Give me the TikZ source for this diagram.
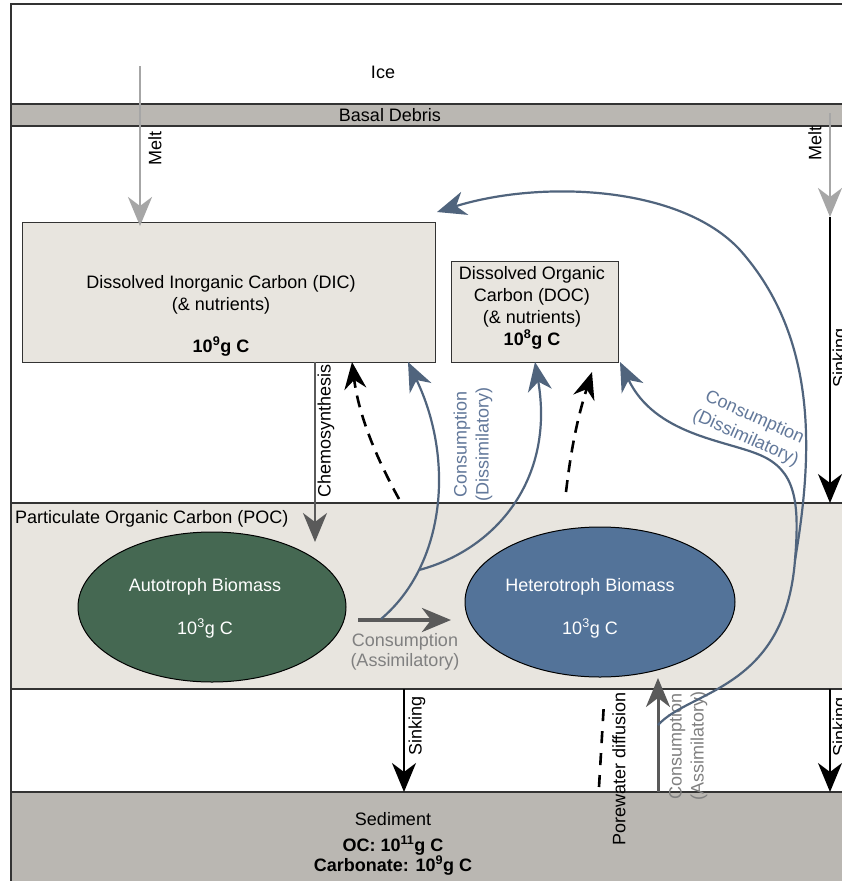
\documentclass[tikz,border=0pt]{standalone}
\usepackage{fontspec}
\setmainfont{Liberation Sans}
\usetikzlibrary{arrows.meta,shapes.geometric}
\definecolor{framecol}{HTML}{333333}
\definecolor{debris}{HTML}{BAB7B2}
\definecolor{pale}{HTML}{E8E5DF}
\definecolor{autofill}{HTML}{456852}
\definecolor{heterofill}{HTML}{537399}
\definecolor{bluecurve}{HTML}{50647D}
\definecolor{bluetext}{HTML}{62789A}
\definecolor{meltgray}{HTML}{A6A6A6}
\definecolor{darkgray}{HTML}{5A5A5A}
\definecolor{labelgray}{HTML}{808080}
\begin{document}
\begin{tikzpicture}[x=1pt,y=-1pt,
  every node/.style={font=\fontsize{18}{22}\selectfont, inner sep=0pt},
  frameline/.style={draw=framecol, line width=1.6pt},
  bigtip/.style={-{Stealth[length=29pt,width=24pt,inset=9pt]}},
  meltarrow/.style={draw=meltgray, line width=2.6pt, bigtip},
  sinkarrow/.style={draw=black, line width=2pt, bigtip},
  bluearrow/.style={draw=bluecurve, line width=2.2pt, bigtip},
  blueline/.style={draw=bluecurve, line width=2.2pt},
  dasharrow/.style={draw=black, line width=2.6pt, dash pattern=on 12pt off 8pt, -{Stealth[length=27pt,width=22pt,inset=9pt]}},
  grayarrow/.style={draw=darkgray, line width=3pt, bigtip},
  boxstyle/.style={draw=framecol, line width=1.4pt, fill=pale, anchor=north west},
  blob/.style={ellipse, draw=black, line width=1pt},
  vlabel/.style={rotate=90, align=center},
  bluelabel/.style={text=bluetext, align=center},
  graylabel/.style={text=labelgray, align=center}
]
\useasboundingbox (0,0) rectangle (842,881);
\fill[white] (0,0) rectangle (842,881);

% layers
\fill[debris] (11,104) rectangle (842,126);
\fill[pale] (11,503) rectangle (842,689);
\fill[debris] (11,792) rectangle (842,881);
\draw[frameline] (842,4) -- (11,4) -- (11,881);
\draw[frameline] (11,104) -- (842,104);
\draw[frameline] (11,126) -- (842,126);
\draw[frameline] (11,503) -- (842,503);
\draw[frameline] (11,689) -- (842,689);
\draw[frameline] (11,792) -- (842,792);

\node[anchor=base] (ice) at (383,78) {Ice};
\node[anchor=base] (basal) at (390,121) {Basal Debris};
\node[anchor=base west] (poc) at (15,523) {Particulate Organic Carbon (POC)};
\node[anchor=base] (sed) at (393,825) {Sediment};
\node[anchor=base, font=\fontsize{18}{22}\selectfont\bfseries] (sedoc) at (393,851) {OC: 10\textsuperscript{11}g C};
\node[anchor=base, font=\fontsize{18}{22}\selectfont\bfseries] (sedcarb) at (393,871) {Carbonate: 10\textsuperscript{9}g C};

% boxes
\node[boxstyle, minimum width=413pt, minimum height=140pt] (dic) at (22,222) {};
\node[anchor=base] (dic1) at (221,288) {Dissolved Inorganic Carbon (DIC)};
\node[anchor=base] (dic2) at (221,310) {(\& nutrients)};
\node[anchor=base, font=\fontsize{18}{22}\selectfont\bfseries] (dic3) at (221,352) {10\textsuperscript{9}g C};

\node[boxstyle, minimum width=167pt, minimum height=101pt] (doc) at (451,261) {};
\node[anchor=base] (doc1) at (532,279) {Dissolved Organic};
\node[anchor=base] (doc2) at (532,301) {Carbon (DOC)};
\node[anchor=base] (doc3) at (532,323) {(\& nutrients)};
\node[anchor=base, font=\fontsize{18}{22}\selectfont\bfseries] (doc4) at (532,345) {10\textsuperscript{8}g C};

% ellipses
\node[blob, fill=autofill, minimum width=268pt, minimum height=150pt] (auto) at (212,607) {};
\node[anchor=base, text=white] (auto1) at (205,591) {Autotroph Biomass};
\node[anchor=base, text=white] (auto2) at (205,634) {10\textsuperscript{3}g C};
\node[blob, fill=heterofill, minimum width=270pt, minimum height=150pt] (het) at (600,602) {};
\node[anchor=base, text=white] (het1) at (590,591) {Heterotroph Biomass};
\node[anchor=base, text=white] (het2) at (590,634) {10\textsuperscript{3}g C};

% coordinates
\coordinate (meltLtop) at (140,66);
\coordinate (meltRtop) at (830,113);
\coordinate (meltRend) at (830,217);
\coordinate (sinkRend) at (830,503);
\coordinate (sinkR2top) at (830,689);
\coordinate (sinkR2end) at (830,792);
\coordinate (sinkMtop) at (404,689);
\coordinate (sinkMend) at (404,792);
\coordinate (chemtop) at (315,362);
\coordinate (chemend) at (315,542);
\coordinate (assimA) at (358,620);
\coordinate (assimB) at (451,620);
\coordinate (assimVbot) at (658,792);
\coordinate (assimVtop) at (658,678);
\coordinate (b1start) at (381,619);
\coordinate (j1) at (419,570);
\coordinate (dicTipA) at (408,362);
\coordinate (docTipA) at (535,362);
\coordinate (b3start) at (658,725);
\coordinate (j2) at (795,560);
\coordinate (archmid) at (740,250);
\coordinate (dicTipB) at (437,212);
\coordinate (docmid) at (760,455);
\coordinate (docTipB) at (620,362);

% melt arrows
\draw[meltarrow] (meltLtop) -- ([yshift=-4pt]meltLtop |- dic.north);
\node[vlabel] (meltL) at (155,148) {Melt};
\draw[meltarrow] (meltRtop) -- (meltRend);
\node[vlabel] (meltR) at (815,143) {Melt};

% sinking arrows
\draw[sinkarrow] (meltRend) -- (sinkRend);
\node[vlabel] (sinkRlab) at (841,358) {Sinking};
\draw[sinkarrow] (sinkR2top) -- (sinkR2end);
\node[vlabel] (sinkR2lab) at (841,727) {Sinking};
\draw[sinkarrow] (sinkMtop) -- (sinkMend);
\node[vlabel] (sinkMlab) at (417,726) {Sinking};

% chemosynthesis
\draw[draw=darkgray, line width=2.4pt, bigtip] (chemtop) -- (chemend);
\node[vlabel] (chemlab) at (326,431) {Chemosynthesis};

% assimilatory arrows
\draw[grayarrow, line width=4pt] (assimA) -- (assimB);
\node[graylabel, anchor=base] (assim1) at (405,646) {Consumption};
\node[graylabel, anchor=base] (assim2) at (405,666) {(Assimilatory)};
\draw[grayarrow] (assimVbot) -- (assimVtop);
\node[vlabel, graylabel] (assimVlab) at (688,746) {Consumption\\(Assimilatory)};

% dashed arrows
\draw[dasharrow] (399,499) .. controls (372,450) and (358,410) .. (352,362);
\draw[dasharrow] (566,492) .. controls (572,440) and (580,410) .. (592,372);
\draw[draw=black, line width=2.6pt, dash pattern=on 12pt off 10pt] (599,787) -- (604,702);
\node[vlabel] (pore) at (619,769) {Porewater diffusion};

% blue curves
\draw[bluearrow] (b1start) .. controls (445,565) and (455,460) .. (dicTipA);
\draw[bluearrow] (j1) .. controls (495,550) and (555,480) .. (docTipA);
\node[vlabel, bluelabel] (dislab1) at (473,444) {Consumption\\(Dissimilatory)};
\draw[blueline] (b3start) .. controls (690,690) and (785,690) .. (j2);
\draw[bluearrow] (j2) .. controls (812,460) and (820,340) .. (archmid) .. controls (680,185) and (540,180) .. (dicTipB);
\draw[bluearrow] (j2) .. controls (800,500) and (795,470) .. (docmid) .. controls (725,440) and (655,435) .. (docTipB);
\node[bluelabel, rotate=-24] (dislab2) at (750,428) {Consumption\\(Dissimilatory)};
\end{tikzpicture}
\end{document}
